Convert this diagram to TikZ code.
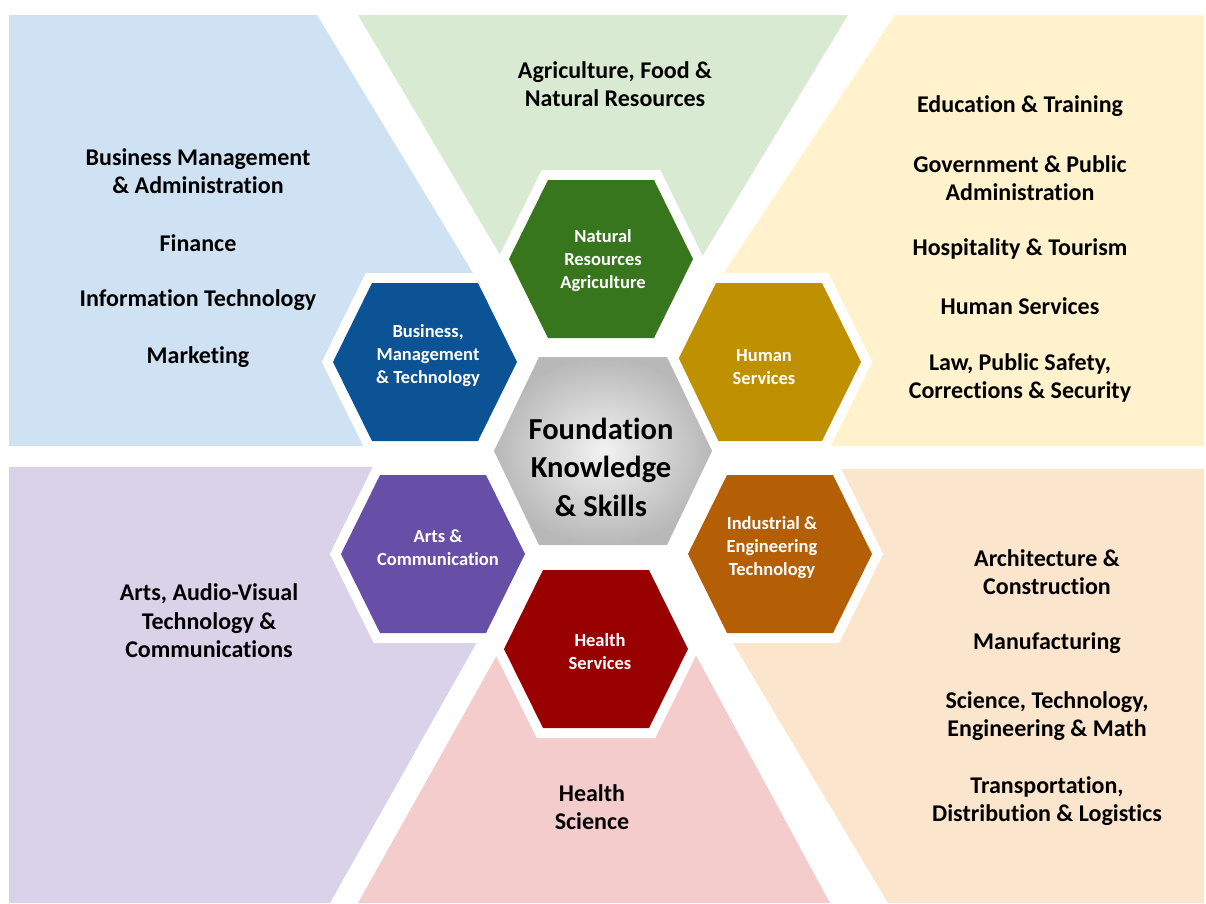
\documentclass[tikz,border=0pt]{standalone}
\usepackage{fontspec}
\setmainfont{Carlito}[Ligatures=CommonOff]

\definecolor{bgblue}{HTML}{CFE2F3}
\definecolor{bggreen}{HTML}{D9EAD3}
\definecolor{bgyellow}{HTML}{FFF2CC}
\definecolor{bgpurple}{HTML}{D9D2E9}
\definecolor{bgpink}{HTML}{F4CCCC}
\definecolor{bgpeach}{HTML}{FCE5CD}
\definecolor{natgreen}{HTML}{38761D}
\definecolor{bizblue}{HTML}{0B5394}
\definecolor{humgold}{HTML}{BF9000}
\definecolor{artpurple}{HTML}{674EA7}
\definecolor{indorange}{HTML}{B45F06}
\definecolor{hlthred}{HTML}{990000}

\tikzset{
  hexcell/.style={preaction={draw=white,line width=20pt,line join=miter}},
  cluster/.style={text=white,align=center,inner sep=0pt,
    font=\bfseries\fontsize{18.5}{23}\selectfont},
  pathway/.style={text=black,align=center,inner sep=0pt,
    font=\bfseries\fontsize{24}{28.5}\selectfont}
}

\begin{document}
\begin{tikzpicture}[x=1pt,y=-1pt]
  \useasboundingbox (0,0) rectangle (1206,903);
  \fill[white] (0,0) rectangle (1206,903);

  % background sectors
  \fill[bgblue] (9,15) -- (317,15) -- (479,283) -- (425,362) -- (373,446) -- (9,446) -- cycle;
  \fill[bggreen] (358,15) -- (848,15) -- (700,260) -- (601,259) -- (503,260) -- cycle;
  \fill[bgyellow] (895,15) -- (1204,15) -- (1204,446) -- (832,446) -- (769,362) -- (717,283) -- cycle;
  \fill[bgpurple] (9,467) -- (375,467) -- (433,554) -- (482,633) -- (330,903) -- (9,903) -- cycle;
  \fill[bgpink] (358,903) -- (501,648) -- (596,649) -- (692,648) -- (830,903) -- cycle;
  \fill[bgpeach] (832,469) -- (1204,469) -- (1204,903) -- (888,903) -- (727,633) -- (780,554) -- cycle;

  % hexagon cells
  \foreach \cx/\cy/\col in {601/259/natgreen,425/362/bizblue,769/362/humgold,
      433/554/artpurple,780/554/indorange,596/649/hlthred}
    \path[hexcell,fill=\col] (\cx,\cy) +(-92,0) -- +(-53,-79) -- +(53,-79)
      -- +(92,0) -- +(53,79) -- +(-53,79) -- cycle;
  \path[hexcell,inner color=gray!10,outer color=gray!56] (603,451) +(-109,0) -- +(-64,-94)
    -- +(64,-94) -- +(109,0) -- +(64,94) -- +(-64,94) -- cycle;

  \node[cluster] (natlbl) at (603,261) {Natural\\Resources\\Agriculture};
  \node[cluster] (bizlbl) at (428,356) {Business,\\Management\\\& Technology};
  \node[cluster] (humlbl) at (764,367) {Human\\Services};
  \node[cluster] (artlbl) at (438,548) {Arts \&\\Communication};
  \node[cluster] (indlbl) at (772,548) {Industrial \&\\Engineering\\Technology};
  \node[cluster] (hlthlbl) at (600,652) {Health\\Services};
  \node[pathway,font=\bfseries\fontsize{30.5}{38.5}\selectfont] (fks) at (601,467)
    {Foundation\\Knowledge\\\& Skills};

  % career pathways
  \node[pathway] (bma) at (198,171) {Business Management\\\& Administration};
  \node[pathway] (fin) at (198,243) {Finance};
  \node[pathway] (infotech) at (198,300) {Information Technology};
  \node[pathway] (mkt) at (198,357) {Marketing};
  \node[pathway] (afnr) at (615,84) {Agriculture, Food \&\\Natural Resources};
  \node[pathway] (edu) at (1020,106) {Education \& Training};
  \node[pathway] (gov) at (1020,178) {Government \& Public\\Administration};
  \node[pathway] (hosp) at (1020,249) {Hospitality \& Tourism};
  \node[pathway] (humsvc) at (1020,306) {Human Services};
  \node[pathway] (law) at (1020,378) {Law, Public Safety,\\Corrections \& Security};
  \node[pathway] (arts) at (209,621) {Arts, Audio-Visual\\Technology \&\\Communications};
  \node[pathway] (arch) at (1047,572) {Architecture \&\\Construction};
  \node[pathway] (manu) at (1047,643) {Manufacturing};
  \node[pathway] (stem) at (1047,716) {Science, Technology,\\Engineering \& Math};
  \node[pathway] (tdl) at (1047,801) {Transportation,\\Distribution \& Logistics};
  \node[pathway] (hsci) at (592,807) {Health\\Science};
\end{tikzpicture}
\end{document}
